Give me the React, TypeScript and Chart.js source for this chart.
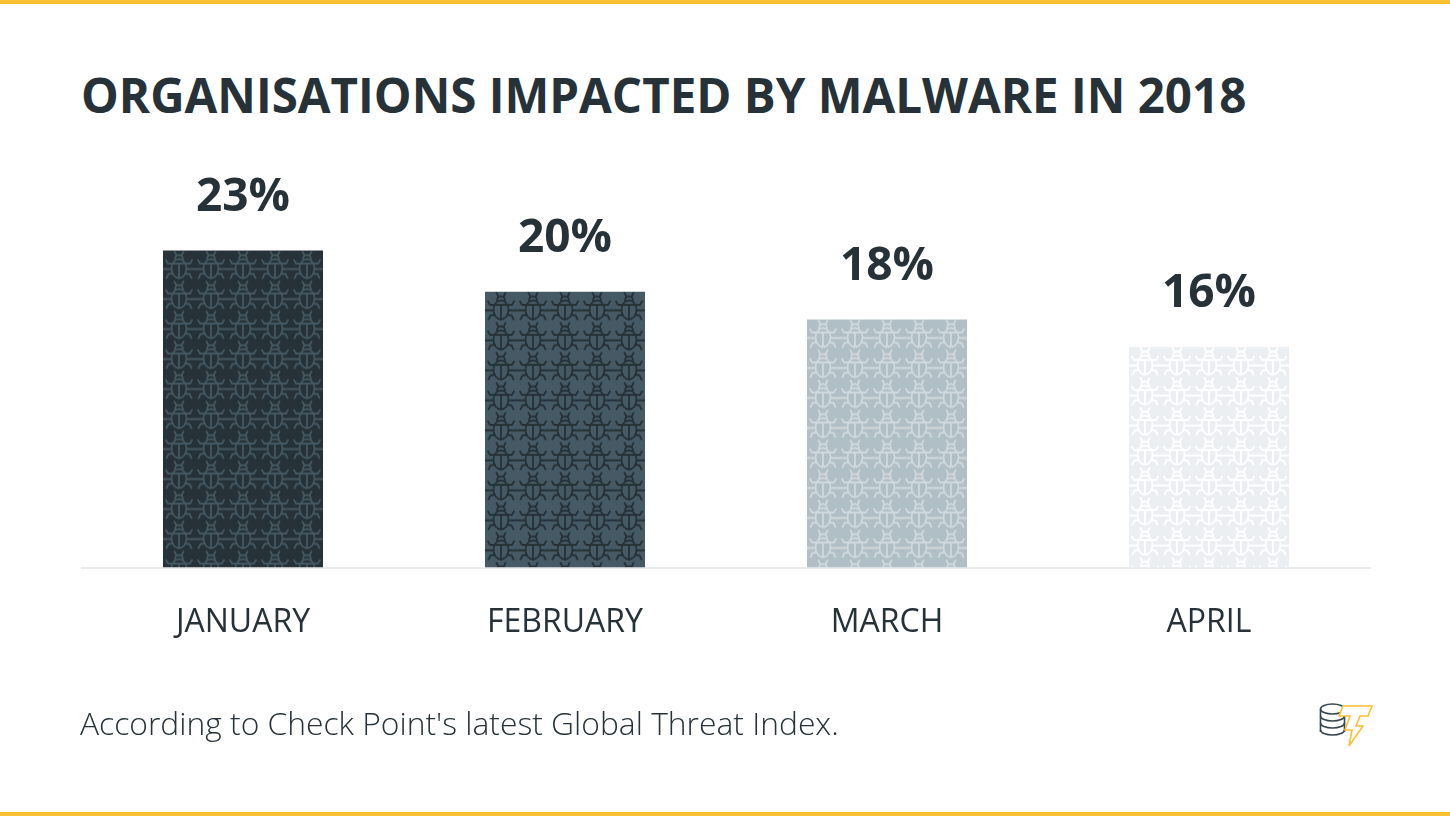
import React, { useEffect, useRef } from "react";
import { Chart, registerables } from "chart.js";

Chart.register(...registerables);

const title = "ORGANISATIONS IMPACTED BY MALWARE IN 2018";
const footnote = "According to Check Point's latest Global Threat Index.";
const months = ["JANUARY", "FEBRUARY", "MARCH", "APRIL"];
const impacted = [23, 20, 18, 16];
const barFills = ["#263238", "#455a64", "#b0bec5", "#eceff1"];
const bugStrokes = ["#455861", "#263238", "#d0d9dd", "#ffffff"];

const TEXT = "#263238";
const YELLOW = "#fbbf33";

function makeBugPattern(ctx: CanvasRenderingContext2D, bg: string, fg: string): CanvasPattern {
  const w = 32;
  const h = 30;
  const c = document.createElement("canvas");
  c.width = w;
  c.height = h;
  const g = c.getContext("2d")!;
  g.fillStyle = bg;
  g.fillRect(0, 0, w, h);
  g.strokeStyle = fg;
  g.lineWidth = 1.8;
  g.lineCap = "round";
  g.lineJoin = "round";
  const line = (pts: number[][]) => {
    g.beginPath();
    g.moveTo(pts[0][0], pts[0][1]);
    for (let i = 1; i < pts.length; i++) g.lineTo(pts[i][0], pts[i][1]);
    g.stroke();
  };
  // antennae
  line([[13.5, 5], [11.5, 1]]);
  line([[18.5, 5], [20.5, 1]]);
  // head
  g.beginPath();
  g.arc(16, 8.5, 4, Math.PI, 2 * Math.PI);
  g.stroke();
  // body
  g.beginPath();
  g.ellipse(16, 18, 7.5, 9.5, 0, 0, 2 * Math.PI);
  g.stroke();
  // T marking
  line([[9, 13], [23, 13]]);
  line([[16, 13], [16, 27.5]]);
  // legs (left)
  line([[9, 13], [5, 13], [3, 9.5]]);
  line([[8.5, 18.5], [0, 18.5]]);
  line([[9.5, 23], [5.5, 23.5], [3.5, 27.5]]);
  // legs (right)
  line([[23, 13], [27, 13], [29, 9.5]]);
  line([[23.5, 18.5], [32, 18.5]]);
  line([[22.5, 23], [26.5, 23.5], [28.5, 27.5]]);
  return ctx.createPattern(c, "repeat")!;
}

export default function App() {
  const canvasRef = useRef<HTMLCanvasElement | null>(null);

  useEffect(() => {
    document.body.style.margin = "0";
    const canvas = canvasRef.current!;
    const ctx = canvas.getContext("2d")!;
    const patterns = barFills.map((bg, i) => makeBugPattern(ctx, bg, bugStrokes[i]));

    const alignPatterns = {
      id: "alignPatterns",
      beforeDatasetsDraw(chart: any) {
        const meta = chart.getDatasetMeta(0);
        meta.data.forEach((bar: any, i: number) => {
          const left = bar.x - bar.width / 2;
          const p = patterns[i] as any;
          if (p && p.setTransform) p.setTransform(new DOMMatrix([1, 0, 0, 1, left, bar.y]));
        });
      },
    };

    const valueLabels = {
      id: "valueLabels",
      afterDatasetsDraw(chart: any) {
        const c = chart.ctx;
        const meta = chart.getDatasetMeta(0);
        c.save();
        c.font = "bold 46px 'Open Sans'";
        c.fillStyle = TEXT;
        c.textAlign = "center";
        c.textBaseline = "middle";
        meta.data.forEach((bar: any, i: number) => {
          c.fillText(impacted[i] + "%", bar.x, bar.y - 53);
        });
        c.restore();
      },
    };

    const chart = new Chart(canvas, {
      type: "bar",
      data: {
        labels: months,
        datasets: [
          {
            data: impacted,
            backgroundColor: patterns as any,
            borderWidth: 0,
            categoryPercentage: 1,
            barPercentage: 0.497,
          },
        ],
      },
      options: {
        responsive: false,
        animation: false,
        events: [],
        layout: { padding: { left: 82, right: 80, top: 154, bottom: 138 } },
        plugins: { legend: { display: false }, tooltip: { enabled: false }, title: { display: false } },
        scales: {
          x: {
            grid: { display: false, drawTicks: false, tickLength: 0 },
            border: { display: true, color: "#e8ecef", width: 2 },
            ticks: {
              padding: 36,
              color: TEXT,
              font: { family: "'Open Sans'", size: 32, weight: "normal" as any },
            },
          },
          y: { display: false, min: 0, max: 30 },
        },
      },
      plugins: [alignPatterns, valueLabels],
    });
    return () => chart.destroy();
  }, []);

  return (
    <div style={{ position: "relative", width: 1450, height: 816, background: "#ffffff", overflow: "hidden" }}>
      <div style={{ position: "absolute", left: 0, top: 0, width: 1450, height: 4, background: YELLOW }} />
      <div style={{ position: "absolute", left: 0, top: 812, width: 1450, height: 4, background: YELLOW }} />
      <div
        style={{
          position: "absolute",
          left: 81,
          top: 71,
          fontFamily: "'Open Sans'",
          fontWeight: 700,
          fontSize: 47.5,
          lineHeight: "48px",
          color: TEXT,
          whiteSpace: "nowrap",
        }}
      >
        {title}
      </div>
      <canvas ref={canvasRef} width={1450} height={816} style={{ position: "absolute", left: 0, top: 0 }} />
      <div
        style={{
          position: "absolute",
          left: 80,
          top: 707,
          fontFamily: "'Open Sans'",
          fontWeight: 300,
          fontSize: 31.8,
          lineHeight: "32px",
          color: TEXT,
          whiteSpace: "nowrap",
        }}
      >
        {footnote}
      </div>
      <svg
        width={70}
        height={56}
        viewBox="0 0 70 56"
        style={{ position: "absolute", left: 1310, top: 696 }}
      >
        <g fill="none" stroke="#37474f" strokeWidth={1.6}>
          <ellipse cx={22.5} cy={13} rx={12} ry={5} fill="#fff" />
          <path d="M10.5 13 V36 M34.5 13 V36" />
          <path d="M10.5 20 A12 5 0 0 0 34.5 20" />
          <path d="M10.5 27 A12 5 0 0 0 34.5 27" />
          <path d="M10.5 34 A12 5 0 0 0 34.5 34" />
        </g>
        <path
          d="M33 10 L62 10 L58 20 L50 20 L46 30 L53 30 L39 50 L42 34 L35 34 L40 20 L29 20 Z"
          fill="#fff"
          stroke={YELLOW}
          strokeWidth={1.6}
          strokeLinejoin="miter"
        />
      </svg>
    </div>
  );
}
